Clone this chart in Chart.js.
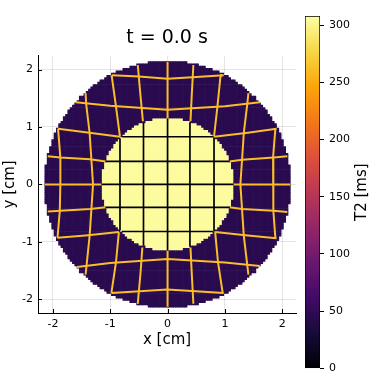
<!DOCTYPE html>
<html>
<head>
<meta charset="utf-8">
<title>T2 phantom</title>
<script src="https://cdn.jsdelivr.net/npm/chart.js@4.4.1/dist/chart.umd.min.js"></script>
<style>
  html, body { margin: 0; padding: 0; background: #fff; }
  #wrap { position: relative; width: 380px; height: 380px; }
  #main { position: absolute; left: 0; top: 0; }
  #cbar { position: absolute; left: 300px; top: 0; }
</style>
</head>
<body>
<div id="wrap">
  <canvas id="main" width="300" height="380"></canvas>
  <canvas id="cbar" width="80" height="380"></canvas>
</div>
<script>
// Phantom regions: outer ring and inner disk
const regionRadii = [2.15, 1.15];   // cm
const regionT2 = [45, 306];         // ms
const spinStep = 0.04;              // spacing of the spin grid (cm)

// T2 of the tag lines: in the ring (orange) and in the inner disk (black)
const tagT2 = [262, 0];

// Tag lines in the ring, as polylines [x, y] in cm
const ringTags = [
  // horizontal, top to bottom
  [[-0.97, 1.90], [-0.5, 1.88], [0, 1.84], [0.5, 1.87], [0.98, 1.90]],
  [[-1.60, 1.43], [-1.0, 1.37], [0, 1.30], [1.0, 1.36], [1.61, 1.43]],
  [[-1.91, 0.97], [-1.43, 0.91], [-0.83, 0.83]],
  [[0.81, 0.83], [1.40, 0.90], [1.90, 0.97]],
  [[-2.09, 0.49], [-1.87, 0.47], [-1.35, 0.44], [-1.08, 0.40]],
  [[1.08, 0.40], [1.30, 0.43], [1.85, 0.47], [2.09, 0.49]],
  [[-2.14, 0.0], [-1.15, 0.0]],
  [[1.15, 0.0], [2.14, 0.0]],
  [[-2.09, -0.47], [-1.87, -0.46], [-1.35, -0.43], [-1.08, -0.40]],
  [[1.08, -0.40], [1.30, -0.43], [1.85, -0.46], [2.09, -0.48]],
  [[-1.92, -0.93], [-1.43, -0.89], [-0.85, -0.83]],
  [[0.83, -0.83], [1.40, -0.89], [1.90, -0.94]],
  [[-1.58, -1.44], [-1.0, -1.37], [0, -1.30], [1.0, -1.36], [1.61, -1.42]],
  [[-0.98, -1.89], [0, -1.83], [0.98, -1.89]],
  // vertical, left to right
  [[-1.91, 0.97], [-1.87, 0.47], [-1.87, 0], [-1.88, -0.46], [-1.92, -0.93]],
  [[-1.43, 1.59], [-1.42, 1.40], [-1.36, 0.90], [-1.30, 0], [-1.36, -0.90], [-1.43, -1.57]],
  [[-0.98, 1.90], [-0.97, 1.86], [-0.90, 1.36], [-0.83, 0.83]],
  [[-0.85, -0.83], [-0.90, -1.36], [-0.98, -1.89]],
  [[-0.52, 2.08], [-0.47, 1.52], [-0.43, 1.10]],
  [[-0.44, -1.10], [-0.47, -1.52], [-0.52, -2.08]],
  [[0, 2.13], [0, 1.15]],
  [[0, -1.15], [0, -2.13]],
  [[0.45, 2.08], [0.42, 1.52], [0.40, 1.10]],
  [[0.40, -1.10], [0.42, -1.52], [0.45, -2.08]],
  [[0.94, 1.92], [0.92, 1.86], [0.87, 1.36], [0.81, 0.83]],
  [[0.83, -0.83], [0.88, -1.36], [0.96, -1.88]],
  [[1.41, 1.59], [1.39, 1.40], [1.33, 0.90], [1.27, 0], [1.33, -0.90], [1.41, -1.57]],
  [[1.88, 0.97], [1.84, 0.47], [1.84, 0], [1.85, -0.46], [1.88, -0.93]]
];

// Tag lines inside the inner disk
const innerTags = [
  [[-0.80, 0.83], [0.80, 0.83]],
  [[-1.08, 0.40], [1.08, 0.40]],
  [[-1.15, 0], [1.15, 0]],
  [[-1.08, -0.40], [1.08, -0.40]],
  [[-0.80, -0.82], [0.80, -0.82]],
  [[-0.83, 0.80], [-0.83, -0.80]],
  [[-0.42, 1.07], [-0.42, -1.07]],
  [[0, 1.15], [0, -1.15]],
  [[0.39, 1.08], [0.39, -1.08]],
  [[0.81, 0.82], [0.81, -0.82]]
];

// Axes
const xRange = [-2.26, 2.24];
const yRange = [-2.24, 2.24];
const axisTicks = [-2, -1, 0, 1, 2];
const t2Range = [0, 308];
const t2Ticks = [0, 50, 100, 150, 200, 250, 300];

// inferno colour map stops
const inferno = ['#000004', '#160b39', '#420a68', '#6a176e', '#932667', '#bc3754',
                 '#dd513a', '#f37819', '#fca50a', '#f6d746', '#fcffa4'];

Chart.defaults.font.family = "'DejaVu Sans', sans-serif";
Chart.defaults.color = '#000';

function hexToRgb(h) {
  return [parseInt(h.slice(1, 3), 16), parseInt(h.slice(3, 5), 16), parseInt(h.slice(5, 7), 16)];
}

// colour for a T2 value through the colour bar range
function t2Color(v) {
  let f = (v - t2Range[0]) / (t2Range[1] - t2Range[0]);
  f = Math.min(1, Math.max(0, f)) * (inferno.length - 1);
  const i = Math.min(inferno.length - 2, Math.floor(f));
  const a = hexToRgb(inferno[i]), b = hexToRgb(inferno[i + 1]);
  const t = f - i;
  const c = a.map((q, k) => Math.round(q + (b[k] - q) * t));
  return `rgb(${c[0]},${c[1]},${c[2]})`;
}

// spins of the phantom on a regular grid, split by region
const ringSpins = [];
const innerSpins = [];
const n = Math.ceil(regionRadii[0] / spinStep);
for (let i = -n; i <= n; i++) {
  for (let j = -n; j <= n; j++) {
    const x = i * spinStep, y = j * spinStep;
    const r = Math.hypot(x, y);
    if (r <= regionRadii[1]) innerSpins.push({ x, y });
    else if (r <= regionRadii[0]) ringSpins.push({ x, y });
  }
}

const toPoints = line => line.map(p => ({ x: p[0], y: p[1] }));

const datasets = [];
innerTags.forEach(line => datasets.push({
  data: toPoints(line), showLine: true, pointRadius: 0,
  borderColor: t2Color(tagT2[1]), borderWidth: 1.7, order: 1
}));
ringTags.forEach(line => datasets.push({
  data: toPoints(line), showLine: true, pointRadius: 0,
  borderColor: t2Color(tagT2[0]), borderWidth: 2, order: 2
}));
datasets.push({
  data: innerSpins, pointStyle: 'rect', pointRadius: 2.1, borderWidth: 0,
  backgroundColor: t2Color(regionT2[1]), order: 3
});
datasets.push({
  data: ringSpins, pointStyle: 'rect', pointRadius: 2.1, borderWidth: 0,
  backgroundColor: t2Color(regionT2[0]), order: 4
});

// short tick marks on the inside of the axes
const insideTicks = {
  id: 'insideTicks',
  afterDraw(chart) {
    const { ctx, chartArea, scales } = chart;
    ctx.save();
    ctx.strokeStyle = '#000';
    ctx.lineWidth = 1;
    axisTicks.forEach(v => {
      const px = Math.round(scales.x.getPixelForValue(v)) + 0.5;
      ctx.beginPath();
      ctx.moveTo(px, chartArea.bottom);
      ctx.lineTo(px, chartArea.bottom - 4);
      ctx.stroke();
      const py = Math.round(scales.y.getPixelForValue(v)) + 0.5;
      ctx.beginPath();
      ctx.moveTo(chartArea.left, py);
      ctx.lineTo(chartArea.left + 4, py);
      ctx.stroke();
    });
    ctx.restore();
  }
};

new Chart(document.getElementById('main'), {
  type: 'scatter',
  data: { datasets },
  options: {
    responsive: false,
    animation: false,
    events: [],
    layout: { padding: { top: 0, right: 4, bottom: 0, left: 0 } },
    plugins: {
      legend: { display: false },
      tooltip: { enabled: false },
      title: {
        display: true,
        text: 't = 0.0 s',
        fullSize: false,
        color: '#000',
        font: { size: 19, weight: 'normal' },
        padding: { top: 27, bottom: 6 }
      }
    },
    scales: {
      x: {
        type: 'linear',
        min: xRange[0],
        max: xRange[1],
        afterFit: s => { s.height = 67; },
        afterBuildTicks: s => { s.ticks = axisTicks.map(v => ({ value: v })); },
        ticks: { padding: 5, font: { size: 11 }, color: '#000', maxRotation: 0 },
        grid: { color: 'rgba(0,0,0,0.1)', drawTicks: false },
        border: { color: '#000', width: 1 },
        title: { display: true, text: 'x [cm]', font: { size: 15 }, padding: { top: 0, bottom: 31 } }
      },
      y: {
        type: 'linear',
        min: yRange[0],
        max: yRange[1],
        afterFit: s => { s.width = 38; },
        afterBuildTicks: s => { s.ticks = axisTicks.map(v => ({ value: v })); },
        ticks: { padding: 5, font: { size: 11 }, color: '#000' },
        grid: { color: 'rgba(0,0,0,0.1)', drawTicks: false },
        border: { color: '#000', width: 1 },
        title: { display: true, text: 'y [cm]', font: { size: 15 }, padding: { top: 1, bottom: 0 } }
      }
    }
  },
  plugins: [insideTicks]
});

// colour bar: one floating bar over the whole T2 range, filled with the colour map
const cbarTitle = {
  id: 'cbarTitle',
  afterDraw(chart) {
    const { ctx, chartArea } = chart;
    ctx.save();
    ctx.translate(chartArea.right + 42, (chartArea.top + chartArea.bottom) / 2);
    ctx.rotate(-Math.PI / 2);
    ctx.font = "15px 'DejaVu Sans', sans-serif";
    ctx.fillStyle = '#000';
    ctx.textAlign = 'center';
    ctx.textBaseline = 'middle';
    ctx.fillText('T2 [ms]', 0, 0);
    ctx.restore();
  }
};

new Chart(document.getElementById('cbar'), {
  type: 'bar',
  data: {
    labels: [''],
    datasets: [{
      data: [t2Range],
      backgroundColor: c => {
        const area = c.chart.chartArea;
        if (!area) return '#000';
        const g = c.chart.ctx.createLinearGradient(0, area.bottom, 0, area.top);
        inferno.forEach((col, i) => g.addColorStop(i / (inferno.length - 1), col));
        return g;
      },
      borderColor: '#000',
      borderWidth: 1,
      borderSkipped: false,
      barPercentage: 1,
      categoryPercentage: 1
    }]
  },
  options: {
    responsive: false,
    animation: false,
    events: [],
    layout: { padding: { left: 5, top: 16, bottom: 8, right: 0 } },
    plugins: { legend: { display: false }, tooltip: { enabled: false } },
    scales: {
      x: { display: false },
      y: {
        position: 'right',
        min: t2Range[0],
        max: t2Range[1],
        afterFit: s => { s.width = 60; },
        afterBuildTicks: s => { s.ticks = t2Ticks.map(v => ({ value: v })); },
        ticks: { padding: 5, font: { size: 11 }, color: '#000' },
        grid: { drawOnChartArea: false, drawTicks: true, tickLength: 4, color: '#000' },
        border: { display: false }
      }
    }
  },
  plugins: [cbarTitle]
});
</script>
</body>
</html>
